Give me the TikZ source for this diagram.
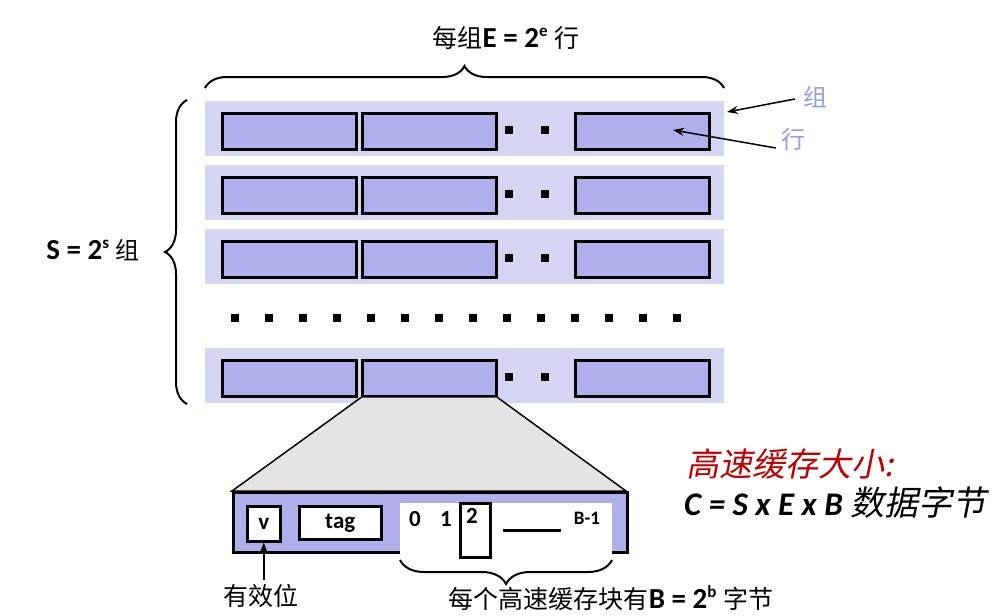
\documentclass[tikz,border=0pt]{standalone}
\usepackage{fontspec}
\setmainfont{Carlito}
\newfontfamily\cjk{Noto Sans CJK SC}
\newfontfamily\cjkit[FakeSlant=0.2]{Noto Sans CJK SC}
\usetikzlibrary{decorations.pathreplacing,arrows.meta,calc}
\definecolor{rowbg}{HTML}{D6D6F4}
\definecolor{boxfill}{HTML}{AFAFEB}
\definecolor{lblue}{HTML}{9A9AE6}
\definecolor{dred}{HTML}{C00000}
\definecolor{trapfill}{HTML}{E4E4E4}
\newcommand{\fsz}[1]{\fontsize{#1}{#1}\selectfont}
\newcommand{\supr}[1]{\raisebox{0.38em}{\fsz{17}#1}}
\begin{document}
\begin{tikzpicture}[x=1pt,y=-1pt,
  rowbox/.style={fill=rowbg, draw=none, inner sep=0pt, minimum width=519pt, minimum height=55pt, anchor=north west},
  linebox/.style={fill=boxfill, draw=black, line width=2.5pt, inner sep=0pt, minimum width=134pt, minimum height=36pt, anchor=north west},
  sqdot/.style={fill=black, draw=none, inner sep=0pt, minimum size=8pt},
  bracestyle/.style={decorate, decoration={brace, amplitude=#1}, line width=2pt},
  arr/.style={-{Stealth[length=11pt,width=8pt]}, line width=1.5pt},
  wbox/.style={fill=white, draw=black, line width=2.5pt, inner sep=0pt, anchor=north west},
  lbl/.style={font=\bfseries\fsz{29}, inner sep=0pt},
  cell/.style={font=\bfseries\fsz{23}, inner sep=0pt}
]
\useasboundingbox (0,0) rectangle (1005,616);

% rows
\foreach \i/\t in {1/101,2/165,3/229,5/348}{
  \node[rowbox] (row\i) at (205,\t) {};
  \node[linebox] (r\i-1) at (221,\t+11) {};
  \node[linebox] (r\i-2) at (361,\t+11) {};
  \node[linebox] (r\i-3) at (574,\t+11) {};
  \node[sqdot] (d\i-1) at (509,\t+29) {};
  \node[sqdot] (d\i-2) at (545,\t+29) {};
}
% middle row of dots
\foreach \k in {0,...,13}{
  \node[sqdot] (m\k) at (235+34*\k,318) {};
}

% braces
\draw[bracestyle=22] (205,88) -- (724,88);
\draw[bracestyle=22] (187,404) -- (187,100);
\node[lbl] (toplbl) at (506,38) {{\cjk\mdseries\fsz{25}每组}E = 2\supr{e} {\cjk\mdseries\fsz{25}行}};
\node[lbl] (leftlbl) at (93,250) {S = 2\supr{s} {\cjk\mdseries\fsz{24}组}};

% labels on the right
\node[font=\cjk\fsz{24}, text=lblue, inner sep=0pt] (zu) at (815,97) {组};
\node[font=\cjk\fsz{24}, text=lblue, inner sep=0pt] (hang) at (793,139) {行};
\coordinate (zutip) at (727,112);
\coordinate (hangtip) at (673,130);
\draw[arr] ($(zu.west)+(-8,2)$) -- (zutip);
\draw[arr] ($(hang.west)+(-5,9)$) -- (hangtip);

% expanded line
\coordinate (bl) at (232,491);
\coordinate (br) at (626,491);
\draw[fill=trapfill, line width=1.5pt] (r5-2.south west) -- (bl) -- (br) -- (r5-2.south east);
\node[fill=boxfill, draw=black, line width=2.5pt, inner sep=0pt, minimum width=394pt, minimum height=60pt, anchor=north west] (blk) at (232,491) {};
\node[fill=white, draw=none, inner sep=0pt, minimum width=212pt, minimum height=58pt, anchor=north west] (data) at (400,503) {};
\node[wbox, minimum width=33pt, minimum height=35pt] (vbox) at (246,505) {};
\node[cell] at (vbox.center) {v};
\node[wbox, minimum width=82pt, minimum height=33pt] (tagbox) at (298,505) {};
\node[cell] at (tagbox.center) {tag};
\node[cell] (b0) at (415,519) {0};
\node[cell] (b1) at (446,519) {1};
\node[wbox, fill=none, minimum width=30pt, minimum height=54pt] (b2box) at (459,502) {};
\node[cell] (b2) at (472,516) {2};
\coordinate (ls) at (503,530);
\coordinate (le) at (561,530);
\draw[line width=3pt] (ls) -- (le);
\node[font=\bfseries\fsz{19}, inner sep=0pt] (bb) at (587,518) {B-1};

\draw[bracestyle=24] (612,560) -- (400,560);
\node[font=\cjk\fsz{25}, inner sep=0pt] (yxw) at (261,596) {有效位};
\draw[arr] (vbox.south |- yxw.north) ++(0,-4) -- (vbox.south);
\node[lbl] (botlbl) at (611,598) {{\cjk\mdseries\fsz{25}每个高速缓存块有}B = 2\supr{b} {\cjk\mdseries\fsz{25}字节}};

% size formula
\node[font=\cjkit\fsz{33}, text=dred, inner sep=0pt, anchor=west] (sz) at (686,464) {高速缓存大小:};
\node[font=\bfseries\itshape\fsz{33}, inner sep=0pt, anchor=west] (formula) at (684,503) {C = S x E x B {\cjkit\mdseries\fsz{34}数据字节}};
\end{tikzpicture}
\end{document}
